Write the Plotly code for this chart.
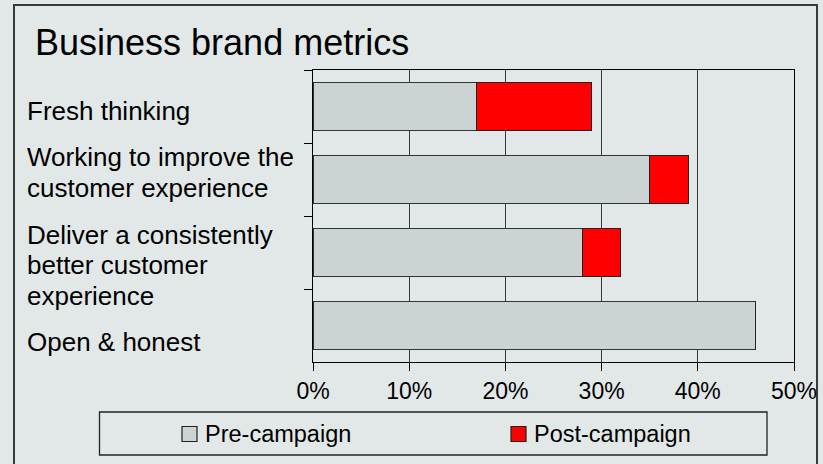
import plotly.graph_objects as go

# ---- data ----
categories = [
    "Fresh thinking",
    "Working to improve the<br>customer experience",
    "Deliver a consistently<br>better customer<br>experience",
    "Open & honest",
]
pre_campaign = [17, 35, 28, 46]
post_campaign = [12, 4, 4, 0]
x_ticks = [0, 10, 20, 30, 40, 50]
x_tick_labels = ["0%", "10%", "20%", "30%", "40%", "50%"]
series_names = ["Pre-campaign", "Post-campaign"]
title_text = "Business brand metrics"

# ---- style / layout ----
W, H = 823, 464
L, R, T, B = 313, 794, 70, 362
BG = "#e2e8e8"
PRE_COLOR = "#cbd3d5"
POST_COLOR = "#ff0000"
SERIES_COLORS = [PRE_COLOR, POST_COLOR]
FONT = "Liberation Sans, Arial, sans-serif"
label_offsets = [4.5, -7, 12.5, 16.5]   # px below bar centre for each label block
line_gap = 30.5
legend_swatch_x = [182, 511]            # left edge of each legend swatch (px)


def px(x):
    return (x - L) / (R - L)


def py(y):
    return (B - y) / (B - T)


fig = go.Figure()
fig.add_trace(go.Bar(
    y=categories, x=pre_campaign, orientation="h", name=series_names[0],
    marker=dict(color=PRE_COLOR, line=dict(color="#333333", width=1)),
))
fig.add_trace(go.Bar(
    y=categories, x=post_campaign, orientation="h", name=series_names[1],
    marker=dict(color=POST_COLOR, line=dict(color="#222222", width=1)),
))

annotations = []
for cat, off in zip(categories, label_offsets):
    lines = cat.split("<br>")
    n = len(lines)
    for i, line in enumerate(lines):
        dy = off + (i - (n - 1) / 2) * line_gap
        annotations.append(dict(
            text=line, x=px(25), xref="paper", xanchor="left",
            y=cat, yref="y", yanchor="middle", yshift=-dy,
            showarrow=False, font=dict(family=FONT, size=26, color="black"),
        ))

annotations.append(dict(
    text=title_text, x=px(33), xref="paper", xanchor="left",
    y=py(42), yref="paper", yanchor="middle", showarrow=False,
    font=dict(family=FONT, size=36, color="black"),
))

shapes = [
    dict(type="rect", xref="paper", yref="paper",
         x0=px(14), x1=px(817), y0=py(466), y1=py(5),
         line=dict(color="#3a3a3a", width=2), layer="below"),
    dict(type="rect", xref="paper", yref="paper",
         x0=px(99.5), x1=px(767), y0=py(455), y1=py(412),
         line=dict(color="#222222", width=1.3), layer="below"),
]

# manual legend (swatch + label) inside the legend box
for name, color, sx in zip(series_names, SERIES_COLORS, legend_swatch_x):
    shapes.append(dict(
        type="rect", xref="paper", yref="paper",
        x0=px(sx), x1=px(sx + 15), y0=py(441.5), y1=py(426.5),
        fillcolor=color, line=dict(color="#222222", width=1.2),
    ))
    annotations.append(dict(
        text=name, x=px(sx + 21), xref="paper", xanchor="left",
        y=py(434), yref="paper", yanchor="middle", showarrow=False,
        font=dict(family=FONT, size=23.5, color="black"),
    ))

fig.update_layout(
    width=W, height=H,
    margin=dict(l=L, r=W - R, t=T, b=H - B, pad=0, autoexpand=False),
    paper_bgcolor=BG, plot_bgcolor=BG,
    barmode="stack", bargap=0.33,
    font=dict(family=FONT, color="black"),
    showlegend=False,
    xaxis=dict(
        range=[0, 50], tickvals=x_ticks, ticktext=x_tick_labels,
        showgrid=True, gridcolor="#3a3a3a", gridwidth=1, zeroline=False,
        showline=True, linecolor="black", linewidth=1, mirror=True,
        ticks="outside", ticklen=8, tickcolor="black", tickwidth=1,
        tickfont=dict(family=FONT, size=23, color="black"),
        fixedrange=True,
    ),
    yaxis=dict(
        categoryorder="array", categoryarray=categories, autorange="reversed",
        showticklabels=False, ticks="outside", tickson="boundaries",
        ticklen=8, tickcolor="black", showgrid=False, zeroline=False,
        showline=True, linecolor="black", linewidth=1, mirror=True,
        fixedrange=True,
    ),
    annotations=annotations, shapes=shapes,
)

fig.write_html("out.html", config={"displayModeBar": False})
